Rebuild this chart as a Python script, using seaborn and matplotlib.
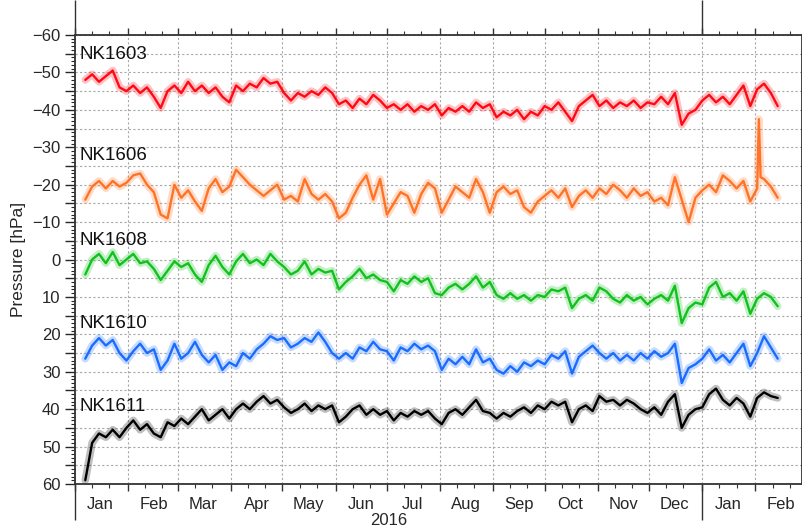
import pandas as pd
import numpy as np
import matplotlib
matplotlib.use("Agg")
import matplotlib.pyplot as plt
import matplotlib.dates as mdates
import matplotlib.ticker as mticker
import seaborn as sns

# readings every 4 days, 2016-01-07 .. 2017-02-14
start_date = "2016-01-07"
step = "4D"

nk1603 = [
    -48, -49.5, -47.5, -49, -50.5, -46, -45, -46.5, -44.5, -46,
    -43.5, -40.5, -45, -46.5, -44.5, -47.5, -45, -46.5, -44.5, -46,
    -43.5, -42, -46.5, -45, -47, -46, -48.5, -47, -47.5, -44.5,
    -42.5, -44.5, -43.5, -45, -44, -46, -44.5, -41.5, -42.5, -40.5,
    -43, -41.5, -44, -42.5, -40.5, -41.5, -40, -41.5, -39.5, -41,
    -40, -41.5, -38.5, -40.5, -39.5, -41, -39.5, -42, -40.5, -41.5,
    -38, -39.5, -38.5, -40, -37.5, -39.5, -38.5, -41, -40, -42,
    -39.5, -37, -41, -42.5, -44, -41, -42.5, -40.5, -42, -41,
    -42.5, -40.5, -42, -41.5, -43.5, -41.5, -44.5, -36, -39, -40,
    -42.5, -44, -42, -43.5, -41.5, -44, -46.5, -41, -45.5, -47,
    -44.5, -41]

nk1606 = [
    -16, -19.5, -21, -19, -21, -19.5, -20.5, -22.5, -23, -20,
    -18, -12, -11, -20, -16.5, -18.5, -15.5, -13, -19, -21.5,
    -18, -19.5, -24, -22, -20, -18.5, -17, -18.5, -20, -16,
    -17, -15.5, -21.5, -17.5, -16, -17.5, -15.5, -11, -12.5, -16.5,
    -20, -22.5, -16, -21.5, -12, -15, -18, -17, -12.5, -17.5,
    -20.5, -19, -12.5, -16, -19.5, -18, -16.5, -21.5, -18, -12.5,
    -18, -19.5, -17.5, -18.5, -14, -12.5, -15.5, -17, -18.5, -16.5,
    -19, -14, -17, -18.5, -16.5, -19, -17.5, -20, -18.5, -16.5,
    -19, -17, -18, -15.5, -16.5, -14.5, -22, -16, -10, -16.5,
    -18.5, -20, -18, -22.5, -21, -19, -21, -15.5, -19, -21.5,
    -19.5, -16.5]
# single-day spike early Feb 2017
nk1606_spike_dates = ["2017-02-03", "2017-02-04"]
nk1606_spike_vals = [-37.5, -22]

nk1608 = [
    4, 0, -1.5, 1, -2, 1.5, 0, -1.5, 1, 0.5,
    2.5, 5.5, 3, 0.5, 2, 1, 4, 6, 1.5, -1,
    2, 4, 0.5, -1.5, 1, 0, 1.5, -1.5, 0.5, 2,
    4, 3, 0.5, 4, 2.5, 3.5, 3, 8, 6, 4.5,
    2.5, 5, 4, 5.5, 6, 8.5, 5.5, 6.5, 4.5, 6,
    5, 9, 9.5, 7.5, 6.5, 8, 6.5, 4.5, 7.5, 6,
    9.5, 10.5, 9, 10.5, 9.5, 11, 9.5, 10, 8, 8.5,
    7.5, 13, 10.5, 9.5, 11, 7.5, 8.5, 10.5, 11.5, 9.5,
    11, 10, 12, 10.5, 9.5, 11, 7, 17, 13, 11.5,
    12, 7.5, 6, 10, 9, 11, 8.5, 14.5, 10.5, 9,
    10, 12.5]

nk1610 = [
    26.5, 23, 21, 23, 21.5, 25, 27, 24.5, 22.5, 25,
    24, 29.5, 27, 22.5, 26.5, 25, 22, 25.5, 27.5, 25.5,
    29.5, 27.5, 28.5, 25, 26.5, 24, 22.5, 20.5, 21.5, 21,
    23.5, 22.5, 21, 22, 19.5, 22, 25, 26.5, 25, 26.5,
    23.5, 24.5, 22, 24, 24.5, 27, 23.5, 24.5, 22.5, 24,
    23, 24.5, 29.5, 26.5, 28, 26, 28, 24, 27.5, 26.5,
    29.5, 30.5, 28.5, 30, 27.5, 28.5, 27, 28, 25.5, 26.5,
    24.5, 30.5, 26, 24.5, 23, 25, 26.5, 25, 27, 25.5,
    27, 25, 26.5, 24.5, 26, 25, 22.5, 33, 29, 28,
    26.5, 24, 27, 25.5, 27.5, 25, 22.5, 28.5, 25, 20.5,
    23.5, 26.5]

nk1611 = [
    59, 49, 46.5, 47.5, 45.5, 47.5, 45, 43, 45.5, 44,
    46.5, 47.5, 43.5, 44.5, 42.5, 44, 42, 40, 43, 41.5,
    40, 42.5, 40, 38.5, 40, 38, 36.5, 38.5, 37.5, 39.5,
    41, 40, 38.5, 40.5, 39, 40, 39, 43.5, 42, 40,
    39, 41.5, 40, 41.5, 40.5, 43, 41, 42, 40.5, 41.5,
    40.5, 42.5, 44, 41, 40, 41.5, 39.5, 37.5, 40.5, 41,
    42.5, 41, 42, 40.5, 39.5, 41, 39, 40, 38, 39,
    38, 43.5, 40, 39, 40.5, 36.5, 38, 37.5, 39, 37.5,
    38.5, 40, 41, 39.5, 41.5, 38, 36, 45, 41.5, 40,
    39.5, 36, 34.5, 37.5, 39, 37, 38.5, 42, 37, 35.5,
    36.5, 37]

stations = ["NK1603", "NK1606", "NK1608", "NK1610", "NK1611"]
colors = ["#ff0a14", "#ff7326", "#12c21c", "#1a6cff", "#000000"]
month_labels = ["Jan", "Feb", "Mar", "Apr", "May", "Jun", "Jul",
                "Aug", "Sep", "Oct", "Nov", "Dec", "Jan", "Feb"]
year_label = "2016"

# build long table
dates = pd.date_range(start_date, periods=len(nk1603), freq=step)
frames = []
for name, vals in zip(stations, [nk1603, nk1606, nk1608, nk1610, nk1611]):
    frames.append(pd.DataFrame({"time": dates, "pressure": vals, "station": name}))
frames.append(pd.DataFrame({"time": pd.to_datetime(nk1606_spike_dates),
                            "pressure": nk1606_spike_vals, "station": "NK1606"}))
df = pd.concat(frames).sort_values(["station", "time"]).reset_index(drop=True)

sns.set_style("ticks")
plt.rcParams['font.family'] = ['Liberation Sans', 'DejaVu Sans']

fig = plt.figure(figsize=(8.03, 5.32), dpi=100)
ax = fig.add_axes([0.0934, 0.0902, 0.905, 0.844])

# soft halo underneath to mimic the noisy band, then the trace itself
sns.lineplot(data=df, x="time", y="pressure", hue="station", hue_order=stations,
             palette=colors, estimator=None, linewidth=5.5, alpha=0.25, legend=False, ax=ax)
sns.lineplot(data=df, x="time", y="pressure", hue="station", hue_order=stations,
             palette=colors, estimator=None, linewidth=1.7, legend=False, ax=ax)

ax.set_xlim(pd.Timestamp("2016-01-01"), pd.Timestamp("2017-02-28"))
ax.set_ylim(60, -60)

# y axis
def ylab(v, pos):
    if round(v) % 10 != 0:
        return ""
    return f"{int(round(v))}".replace("-", "\u2212")

ax.yaxis.set_major_locator(mticker.MultipleLocator(5))
ax.yaxis.set_minor_locator(mticker.MultipleLocator(1))
ax.yaxis.set_major_formatter(mticker.FuncFormatter(ylab))
ax.set_ylabel("Pressure [hPa]", fontsize=12.5, labelpad=4)
ax.set_xlabel("")

# x axis: months
ax.xaxis.set_major_locator(mdates.MonthLocator())
ax.xaxis.set_minor_locator(mdates.DayLocator(bymonthday=[11, 21]))
ax.xaxis.set_major_formatter(mticker.NullFormatter())
ax.xaxis.set_minor_formatter(mticker.NullFormatter())

ax.tick_params(axis="x", which="both", top=True, direction="out", colors="#333333")
ax.tick_params(axis="both", which="major", length=5, width=1.0, labelsize=12)
ax.tick_params(axis="both", which="minor", length=3, width=0.8)
ax.tick_params(axis="y", which="major", length=7)

ax.grid(True, which="major", color="#a8a8a8", linestyle=(0, (2, 2)), linewidth=0.8)
for s in ax.spines.values():
    s.set_visible(True)
    s.set_color("#333333")
    s.set_linewidth(1.3)

# month names centred in each month
mid_month = mdates.date2num(pd.date_range("2016-01-01", periods=len(month_labels), freq="MS")
                            + pd.Timedelta(days=15))
sec = ax.secondary_xaxis("bottom")
sec.set_xticks(mid_month, labels=month_labels)
sec.tick_params(length=0, pad=9, labelsize=12)
sec.spines["bottom"].set_visible(False)

# year boundaries and year label
year_bounds = mdates.date2num(pd.to_datetime(["2016-01-01", "2017-01-01"]))
sec_y = ax.secondary_xaxis("bottom")
sec_y.set_xticks(year_bounds, labels=["", ""])
sec_y.set_xticks(mdates.date2num(pd.to_datetime(["2016-07-02"])), labels=[year_label], minor=True)
sec_y.tick_params(which="major", length=26, width=1.0, color="#333333")
sec_y.tick_params(which="minor", length=0, pad=21, labelsize=12)
sec_y.spines["bottom"].set_visible(False)

sec_t = ax.secondary_xaxis("top")
sec_t.set_xticks(year_bounds, labels=["", ""])
sec_t.tick_params(which="major", length=25, width=1.0, color="#333333")
sec_t.spines["top"].set_visible(False)

# station names
label_y = [-54.7, -27.7, -5, 17, 39.4]
for name, yv in zip(stations, label_y):
    ax.text(0.006, yv, name, transform=ax.get_yaxis_transform(),
            fontsize=13.5, va="center", ha="left", color="#111111")

fig.savefig("out.png", dpi=100)
